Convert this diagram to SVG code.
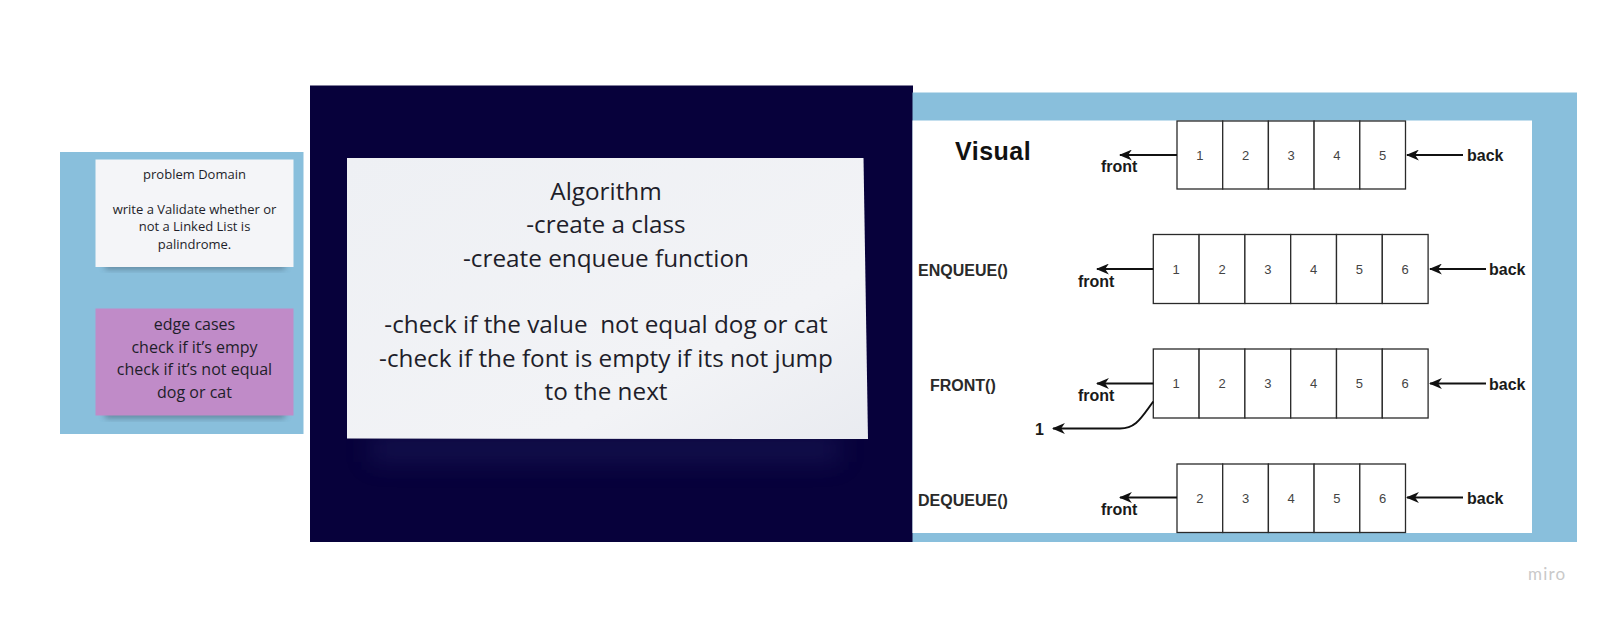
<svg xmlns="http://www.w3.org/2000/svg" width="1613" height="619" viewBox="0 0 1613 619">
<style>
.panel{fill:#89bfdc}
.note{font-family:"Open Sans","DejaVu Sans",sans-serif;fill:#1e1e2a;text-anchor:middle}
.cell{fill:#ffffff;stroke:#2a2a2a;stroke-width:1.3}
.num{font-family:"Liberation Sans",Arial,sans-serif;font-size:13px;fill:#444;text-anchor:middle}
.lbl{font-family:"Liberation Sans",Arial,sans-serif;font-size:16px;font-weight:bold;fill:#1a1a1a}
.op{font-family:"Liberation Sans",Arial,sans-serif;font-size:16px;font-weight:bold;fill:#2a2a2a}
.arr{fill:none;stroke:#111;stroke-width:2;marker-end:url(#ah)}
</style>
<defs>
<marker id="ah" viewBox="0 0 12 10" refX="11" refY="5" markerWidth="13" markerHeight="11" markerUnits="userSpaceOnUse" orient="auto">
<path d="M0,0 L12,5 L0,10 L3.5,5 Z" fill="#111"/>
</marker>
<filter id="sh" x="-20%" y="-50%" width="140%" height="200%">
<feGaussianBlur stdDeviation="3"/>
</filter>
<filter id="sh2" x="-20%" y="-100%" width="140%" height="300%">
<feGaussianBlur stdDeviation="12"/>
</filter>
<linearGradient id="cardg" x1="0" y1="0" x2="1" y2="1">
<stop offset="0" stop-color="#eef0f4"/>
<stop offset="0.7" stop-color="#f2f3f6"/>
<stop offset="1" stop-color="#e9ebf0"/>
</linearGradient>
</defs>
<rect width="1613" height="619" fill="#ffffff"/>

<g id="left-panel">
<rect class="panel" x="60" y="152" width="243.5" height="282"/>
</g>

<g id="problem-note">
<rect x="105" y="262" width="180" height="7" fill="#3a4f60" opacity="0.55" filter="url(#sh)"/>
<rect x="95.5" y="159.5" width="198" height="107.5" fill="#f4f5f8"/>
<text class="note" font-size="13" x="194.5" y="179">problem Domain</text>
<text class="note" font-size="13" x="194.5" y="213.5">write a Validate whether or</text>
<text class="note" font-size="13" x="194.5" y="231">not a Linked List is</text>
<text class="note" font-size="13" x="194.5" y="248.5">palindrome.</text>
</g>

<g id="edge-note">
<rect x="105" y="411" width="180" height="7" fill="#3a4f60" opacity="0.55" filter="url(#sh)"/>
<rect x="95.5" y="308.5" width="198" height="107" fill="#c08bc8"/>
<text class="note" font-size="16" x="194.5" y="330">edge cases</text>
<text class="note" font-size="16" x="194.5" y="352.5">check if it’s empy</text>
<text class="note" font-size="16" x="194.5" y="375">check if it’s not equal</text>
<text class="note" font-size="16" x="194.5" y="397.5">dog or cat</text>
</g>

<g id="algorithm-panel">
<rect x="310" y="85.5" width="603" height="456.5" fill="#07013b"/>
<rect x="370" y="436" width="470" height="26" fill="#2a2e6a" opacity="0.35" filter="url(#sh2)"/>
<polygon points="347,158 863.5,158 868,439 347,438.5" fill="url(#cardg)"/>
<text class="note" font-size="24.3" x="606" y="199.5">Algorithm</text>
<text class="note" font-size="24.3" x="606" y="233">-create a class</text>
<text class="note" font-size="24.3" x="606" y="266.5">-create enqueue function</text>
<text class="note" font-size="24.3" x="606" y="333" xml:space="preserve">-check if the value  not equal dog or cat</text>
<text class="note" font-size="24.3" x="606" y="366.5">-check if the font is empty if its not jump</text>
<text class="note" font-size="24.3" x="606" y="400">to the next</text>
</g>

<g id="visual-panel">
<rect class="panel" x="912.5" y="92.5" width="664.5" height="449.5"/>
<rect x="912.5" y="120.5" width="619.5" height="412.5" fill="#ffffff"/>
<text x="955" y="160" font-family="Liberation Sans,Arial,sans-serif" font-size="25" font-weight="bold" letter-spacing="0.5" fill="#111">Visual</text>
</g>

<g id="queue-visual">
<rect class="cell" x="1177" y="121" width="45.7" height="68"/>
<rect class="cell" x="1222.7" y="121" width="45.7" height="68"/>
<rect class="cell" x="1268.4" y="121" width="45.7" height="68"/>
<rect class="cell" x="1314.1" y="121" width="45.7" height="68"/>
<rect class="cell" x="1359.8" y="121" width="45.7" height="68"/>
<text class="num" x="1199.8" y="159.5">1</text>
<text class="num" x="1245.5" y="159.5">2</text>
<text class="num" x="1291.2" y="159.5">3</text>
<text class="num" x="1336.9" y="159.5">4</text>
<text class="num" x="1382.6" y="159.5">5</text>
<text class="lbl" x="1101" y="172">front</text>
<text class="lbl" x="1467" y="161">back</text>
</g>

<g id="queue-enqueue">
<text class="op" x="918" y="276">ENQUEUE()</text>
<rect class="cell" x="1153.3" y="234.5" width="45.8" height="69"/>
<rect class="cell" x="1199.1" y="234.5" width="45.8" height="69"/>
<rect class="cell" x="1244.9" y="234.5" width="45.8" height="69"/>
<rect class="cell" x="1290.7" y="234.5" width="45.8" height="69"/>
<rect class="cell" x="1336.5" y="234.5" width="45.8" height="69"/>
<rect class="cell" x="1382.3" y="234.5" width="45.8" height="69"/>
<text class="num" x="1176.2" y="273.5">1</text>
<text class="num" x="1222" y="273.5">2</text>
<text class="num" x="1267.8" y="273.5">3</text>
<text class="num" x="1313.6" y="273.5">4</text>
<text class="num" x="1359.4" y="273.5">5</text>
<text class="num" x="1405.2" y="273.5">6</text>
<text class="lbl" x="1078" y="287">front</text>
<text class="lbl" x="1489" y="275">back</text>
</g>

<g id="queue-front">
<text class="op" x="930" y="390.5">FRONT()</text>
<rect class="cell" x="1153.3" y="349" width="45.8" height="69"/>
<rect class="cell" x="1199.1" y="349" width="45.8" height="69"/>
<rect class="cell" x="1244.9" y="349" width="45.8" height="69"/>
<rect class="cell" x="1290.7" y="349" width="45.8" height="69"/>
<rect class="cell" x="1336.5" y="349" width="45.8" height="69"/>
<rect class="cell" x="1382.3" y="349" width="45.8" height="69"/>
<text class="num" x="1176.2" y="388">1</text>
<text class="num" x="1222" y="388">2</text>
<text class="num" x="1267.8" y="388">3</text>
<text class="num" x="1313.6" y="388">4</text>
<text class="num" x="1359.4" y="388">5</text>
<text class="num" x="1405.2" y="388">6</text>
<text class="lbl" x="1078" y="401">front</text>
<text class="lbl" x="1489" y="390">back</text>
<text class="lbl" x="1035" y="435">1</text>
</g>

<g id="queue-dequeue">
<text class="op" x="918" y="506">DEQUEUE()</text>
<rect class="cell" x="1177" y="464" width="45.7" height="68.5"/>
<rect class="cell" x="1222.7" y="464" width="45.7" height="68.5"/>
<rect class="cell" x="1268.4" y="464" width="45.7" height="68.5"/>
<rect class="cell" x="1314.1" y="464" width="45.7" height="68.5"/>
<rect class="cell" x="1359.8" y="464" width="45.7" height="68.5"/>
<text class="num" x="1199.8" y="502.5">2</text>
<text class="num" x="1245.5" y="502.5">3</text>
<text class="num" x="1291.2" y="502.5">4</text>
<text class="num" x="1336.9" y="502.5">5</text>
<text class="num" x="1382.6" y="502.5">6</text>
<text class="lbl" x="1101" y="515">front</text>
<text class="lbl" x="1467" y="504">back</text>
</g>

<g id="connectors">
<line class="arr" x1="1177" y1="155" x2="1120" y2="155"/>
<line class="arr" x1="1463" y1="155" x2="1407" y2="155"/>
<line class="arr" x1="1153.3" y1="269" x2="1097" y2="269"/>
<line class="arr" x1="1486" y1="269" x2="1430" y2="269"/>
<line class="arr" x1="1153.3" y1="383.5" x2="1097" y2="383.5"/>
<line class="arr" x1="1486" y1="383.5" x2="1430" y2="383.5"/>
<path class="arr" d="M1153.3,401.5 C1141,418 1136,428.5 1120,428.5 L1053,428.5"/>
<line class="arr" x1="1177" y1="497.5" x2="1120" y2="497.5"/>
<line class="arr" x1="1463" y1="497.5" x2="1407" y2="497.5"/>
</g>

<g id="miro-logo">
<text x="1528" y="580" font-family="Lato,'Open Sans',sans-serif" font-size="17" letter-spacing="1.2" fill="#c9c9c9">miro</text>
</g>
</svg>
